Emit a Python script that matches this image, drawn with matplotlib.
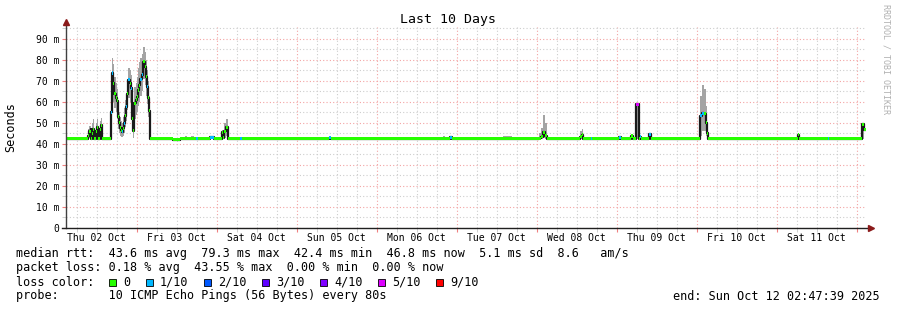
"""SmokePing style 10-day latency graph (median rtt + smoke + loss colours)."""

from datetime import datetime, timedelta

import matplotlib

matplotlib.use("Agg")
import matplotlib.pyplot as plt
from matplotlib.patches import Rectangle

plt.rcParams["font.family"] = ["DejaVu Sans Mono", "DejaVu Sans"]

START = datetime(2025, 10, 2, 2, 47, 39)
SPAN_H = 240  # 10 days

# samples: start hour (since START), median ms, loss colour index, smoke min/max ms
t_hr = [
    0.0, 6.6, 7.0, 7.35, 7.6, 7.9, 8.2, 8.5, 8.85, 9.15, 9.45, 10.05, 10.35, 10.65,
    13.35, 13.9, 14.2, 14.5, 14.85, 15.2, 15.45, 15.7, 15.95, 16.2, 16.45, 16.7,
    17.1, 17.5, 17.75, 18.0, 18.35, 18.7, 19.05, 19.4, 19.7, 20.0, 20.25, 20.5,
    20.85, 21.2, 21.45, 21.7, 21.95, 22.2, 22.7, 22.95, 23.2, 23.7, 24.0, 24.2,
    24.55, 24.9, 25.2,
    32.1, 34.2, 35.7, 36.3, 37.5, 38.4, 39.0, 39.45, 43.2, 44.4, 46.65, 47.05,
    47.4, 47.85, 48.7, 52.2, 52.65,
    78.9, 79.35, 97.8, 98.4, 106.2, 107.7, 109.8, 111.6, 113.1, 113.7, 115.2,
    115.65, 119.1, 119.7,
    131.1, 133.8, 138.3, 138.9, 141.9, 142.5, 143.1, 143.7, 144.15,
    154.2, 154.65, 155.1, 157.5, 157.8, 160.8, 162.3, 165.9, 166.35, 169.5,
    169.95, 171.0, 171.75, 172.05, 172.5, 174.75, 175.35,
    190.05, 190.7, 191.25, 191.85, 192.2, 192.45,
    219.6, 219.9, 228.6, 229.0, 238.8, 239.25,
]
med_ms = [
    42.4, 44.0, 46.0, 47.0, 42.4, 45.0, 47.0, 42.4, 46.0, 48.0, 42.4, 47.0, 49.0, 42.4,
    55.0, 73.8, 69.0, 64.0, 62.0, 60.5, 56.0, 53.0, 50.0, 47.8, 46.5, 45.9,
    47.5, 49.8, 53.5, 57.8, 64.0, 70.5, 69.0, 66.5, 52.0, 46.3, 55.0, 59.4,
    61.0, 62.5, 64.0, 65.7, 68.0, 70.8, 72.9, 76.0, 79.2, 76.8, 72.0, 67.3,
    62.0, 55.9, 42.4,
    42.0, 42.4, 42.4, 42.4, 42.4, 42.4, 42.5, 42.4, 43.3, 42.4, 45.5, 43.0,
    46.0, 48.0, 42.4, 42.5, 42.4,
    43.0, 42.4, 42.4, 42.4, 42.4, 42.4, 42.4, 42.4, 42.4, 42.4, 43.2,
    42.4, 42.4, 42.4,
    42.4, 42.4, 42.4, 42.4, 42.8, 43.5, 45.5, 44.0, 42.4,
    43.5, 44.3, 42.4, 42.5, 42.4, 42.4, 42.4, 43.3, 42.4, 43.8,
    42.4, 59.0, 42.4, 43.5, 42.4, 44.6, 42.4,
    53.5, 54.6, 54.3, 50.0, 45.0, 42.4,
    44.5, 42.4, 42.5, 42.4, 49.5, 46.8,
]
loss_idx = [
    0, 0, 0, 0, 0, 0, 0, 0, 0, 0, 0, 0, 0, 0,
    1, 1, 0, 0, 0, 0, 0, 0, 0, 0, 0, 1,
    0, 1, 0, 1, 0, 1, 0, 1, 0, 0, 0, 0,
    0, 0, 0, 0, 0, 1, 1, 0, 0, 0, 0, 1,
    0, 0, 0,
    0, 0, 0, 0, 0, 0, 1, 0, 1, 0, 0, 0,
    0, 0, 0, 1, 0,
    1, 0, 0, 0, 0, 0, 0, 0, 0, 0, 1,
    0, 0, 0,
    0, 0, 0, 0, 0, 0, 0, 0, 0,
    0, 0, 0, 1, 0, 0, 0, 1, 0, 0,
    0, 5, 0, 1, 0, 1, 0,
    1, 1, 0, 0, 0, 0,
    0, 0, 1, 0, 0, 0,
]
smoke_lo = [
    42.4, 42.4, 43.0, 43.5, 42.4, 43.0, 43.5, 42.4, 43.0, 44.0, 42.4, 44.0, 45.0, 42.4,
    48.0, 64.0, 60.0, 57.0, 55.0, 52.0, 50.0, 47.0, 45.0, 44.0, 43.5, 43.5,
    44.0, 45.0, 48.0, 51.0, 56.0, 62.0, 60.0, 57.0, 46.0, 43.0, 48.0, 52.0,
    54.0, 55.0, 56.0, 58.0, 60.0, 63.0, 65.0, 68.0, 71.0, 68.0, 63.0, 59.0,
    53.0, 49.0, 42.4,
    42.0, 42.4, 42.4, 42.4, 42.4, 42.4, 42.4, 42.4, 42.2, 42.4, 42.4, 42.4,
    43.0, 44.0, 42.4, 42.4, 42.4,
    42.0, 42.4, 42.4, 42.4, 42.4, 42.4, 42.4, 42.4, 42.4, 42.4, 42.0,
    42.4, 42.4, 42.4,
    42.4, 42.4, 42.4, 42.4, 42.4, 42.4, 42.8, 42.4, 42.4,
    42.4, 42.4, 42.4, 42.4, 42.4, 42.4, 42.4, 42.0, 42.4, 42.4,
    42.4, 42.4, 42.4, 42.4, 42.4, 42.4, 42.4,
    44.0, 46.0, 46.0, 44.0, 43.0, 42.4,
    42.4, 42.4, 42.4, 42.4, 42.4, 46.0,
]
smoke_hi = [
    42.4, 47.0, 48.5, 48.5, 42.4, 50.0, 52.0, 42.4, 50.0, 52.0, 42.4, 51.0, 52.5, 42.4,
    60.0, 81.0, 78.0, 72.0, 69.0, 66.0, 62.0, 59.0, 55.0, 53.0, 51.0, 50.0,
    53.0, 57.0, 61.0, 64.0, 71.0, 76.0, 75.0, 73.0, 60.0, 52.0, 63.0, 67.0,
    69.0, 72.0, 74.0, 76.0, 79.0, 81.0, 83.0, 85.0, 86.0, 84.0, 80.0, 75.0,
    70.0, 63.0, 42.4,
    42.0, 42.4, 43.8, 42.4, 43.8, 42.4, 42.5, 42.4, 43.5, 42.4, 46.5, 44.0,
    50.0, 52.0, 42.4, 42.5, 42.4,
    43.5, 42.4, 43.3, 42.4, 43.5, 42.4, 43.5, 42.4, 43.8, 42.4, 43.5,
    42.4, 43.0, 42.4,
    43.8, 42.4, 43.5, 42.4, 45.0, 47.5, 53.8, 50.0, 42.4,
    46.0, 47.0, 42.4, 42.5, 42.4, 43.5, 42.4, 43.5, 42.4, 44.3,
    42.4, 59.0, 42.4, 43.8, 42.4, 44.8, 42.4,
    63.0, 68.0, 66.0, 58.0, 50.0, 42.4,
    45.0, 42.4, 42.5, 42.4, 49.5, 47.5,
]

LOSS_COLORS = ["#26ff00", "#00b8ff", "#0059ff", "#5e00ff", "#7e00ff", "#dd00ff", "#ff0000"]
LOSS_LABELS = ["0", "1/10", "2/10", "3/10", "4/10", "5/10", "9/10"]

day_labels = ["Thu 02 Oct", "Fri 03 Oct", "Sat 04 Oct", "Sun 05 Oct", "Mon 06 Oct",
              "Tue 07 Oct", "Wed 08 Oct", "Thu 09 Oct", "Fri 10 Oct", "Sat 11 Oct"]
ytick_vals = [0, 10, 20, 30, 40, 50, 60, 70, 80, 90]
ytick_labels = ["0", "10 m", "20 m", "30 m", "40 m", "50 m", "60 m", "70 m", "80 m", "90 m"]

rtt_line = "median rtt:  43.6 ms avg  79.3 ms max  42.4 ms min  46.8 ms now  5.1 ms sd  8.6   am/s"
loss_line = "packet loss: 0.18 % avg  43.55 % max  0.00 % min  0.00 % now"
probe_line = "probe:       10 ICMP Echo Pings (56 Bytes) every 80s"
end_line = "end: Sun Oct 12 02:47:39 2025"

W, H = 897, 310
fig = plt.figure(figsize=(W / 100, H / 100), dpi=100)
fig.patch.set_facecolor("white")
ax = fig.add_axes([66 / W, (H - 228) / H, 800 / W, 201 / H])

# smoke, black median trace, then loss-coloured median band
t_end = t_hr[1:] + [SPAN_H]
dur = [b - a for a, b in zip(t_hr, t_end)]
ax.bar(t_hr, [h - l for l, h in zip(smoke_lo, smoke_hi)], bottom=smoke_lo, width=dur,
       align="edge", color="#a4a4a4", linewidth=0, zorder=2)
ax.step(t_hr + [SPAN_H], med_ms + [med_ms[-1]], where="post", color="#1a1a1a", lw=1.6, zorder=3)
MW = 0.72
ax.bar(t_hr, 2 * MW, bottom=[m - MW for m in med_ms], width=dur, align="edge",
       color=[LOSS_COLORS[i] for i in loss_idx], linewidth=0, antialiased=False, zorder=4)

ax.set_xlim(0, SPAN_H)
ax.set_ylim(0, 95.7)

# time grid: midnights major, 6h minor, day labels at noon
first_mid = datetime(2025, 10, 3)
h0 = (first_mid - START).total_seconds() / 3600
midnights = [h0 + 24 * k for k in range(10) if h0 + 24 * k <= SPAN_H]
six_h = [h0 - 18 + 6 * k for k in range(41) if 0 < h0 - 18 + 6 * k < SPAN_H and k % 4 != 3]
noons = [h0 - 12 + 24 * k for k in range(len(day_labels))]
ax.set_xticks(midnights)
ax.set_xticks(six_h, minor=True)
ax.set_xticklabels([])
for h, lab in zip(noons, day_labels):
    ax.text(h, -10 / 201, lab, transform=ax.get_xaxis_transform(), ha="center",
            va="center", fontsize=7)

ax.set_yticks(ytick_vals)
ax.set_yticklabels(ytick_labels)
ax.set_yticks([v + 5 for v in ytick_vals], minor=True)

ax.set_axisbelow(True)
ax.grid(which="major", color="#f3a3a3", linestyle=(0, (1, 2)), lw=0.8)
ax.grid(which="minor", color="#cdcdcd", linestyle=(0, (1, 2)), lw=0.8)
ax.tick_params(which="major", length=3, color="#f08080", labelsize=7, pad=2)
ax.tick_params(which="minor", length=3, color="#c8c8c8")
for s in ax.spines.values():
    s.set_visible(False)

# axes with arrows
ax.plot([0, 0], [0, 1 + 4 / 201], transform=ax.transAxes, color="#404040", lw=1, clip_on=False, zorder=5)
ax.plot([-4 / 800, 1 + 4 / 800], [0, 0], transform=ax.transAxes, color="#202020", lw=1, clip_on=False, zorder=5)
ax.plot([0], [1 + 5 / 201], marker="^", ms=4.5, color="#8b1a1a", transform=ax.transAxes, clip_on=False, zorder=6)
ax.plot([1 + 5 / 800], [0], marker=">", ms=4.5, color="#8b1a1a", transform=ax.transAxes, clip_on=False, zorder=6)

fig.text(448 / W, 1 - 19 / H, "Last 10 Days", ha="center", va="center", fontsize=9.5)
fig.text(11 / W, 1 - 127 / H, "Seconds", rotation=90, ha="center", va="center", fontsize=8.5)
fig.text(886 / W, 1 - 4 / H, "RRDTOOL / TOBI OETIKER", rotation=270, ha="center", va="top",
         fontsize=6, color="#b0b0b0")

# legend block
fs = 8.5
fig.text(16 / W, 1 - 254 / H, rtt_line, ha="left", va="center", fontsize=fs)
fig.text(16 / W, 1 - 268 / H, loss_line, ha="left", va="center", fontsize=fs)
fig.text(16 / W, 1 - 282 / H, "loss color:", ha="left", va="center", fontsize=fs)
bx = 109.0
for c, lab in zip(LOSS_COLORS, LOSS_LABELS):
    fig.patches.append(Rectangle((bx / W, 1 - 285.5 / H), 7 / W, 7 / H, transform=fig.transFigure,
                                 facecolor=c, edgecolor="black", lw=0.6))
    fig.text((bx + 14.3) / W, 1 - 282 / H, lab, ha="left", va="center", fontsize=fs)
    bx += 29.6 + 7.1 * len(lab)
fig.text(16 / W, 1 - 296 / H, probe_line, ha="left", va="center", fontsize=fs)
fig.text(880 / W, 1 - 296 / H, end_line, ha="right", va="center", fontsize=fs)

fig.savefig("out.png", dpi=100, facecolor="white")
